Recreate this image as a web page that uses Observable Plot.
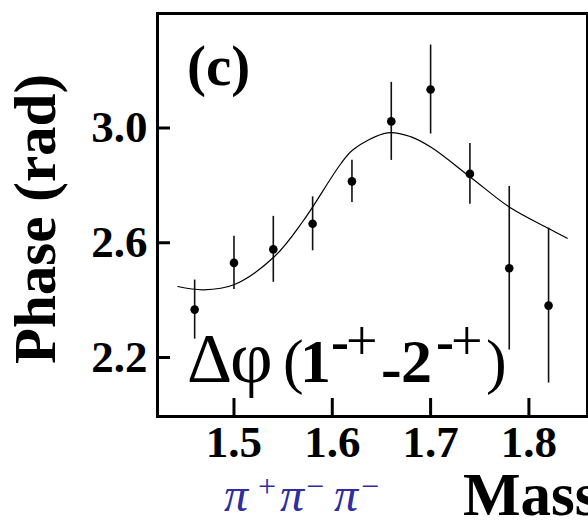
<!DOCTYPE html>
<html><head><meta charset="utf-8">
<script src="https://cdn.jsdelivr.net/npm/d3@7"></script>
<script src="https://cdn.jsdelivr.net/npm/@observablehq/plot@0.6"></script>
<style>body{margin:0;background:#fff}</style>
</head><body><div id="chart"></div>
<script>
// Data points: mass (GeV), phase (rad), symmetric error
const mass  = [1.46, 1.50, 1.54, 1.58, 1.62, 1.66, 1.70, 1.74, 1.78, 1.82];
const phase = [2.367, 2.530, 2.577, 2.666, 2.814, 3.023, 3.134, 2.840, 2.511, 2.381];
const err   = [0.103, 0.093, 0.115, 0.094, 0.074, 0.136, 0.155, 0.106, 0.285, 0.270];
// Fit curve
const fitMass  = [1.4428, 1.4690, 1.5005, 1.5412, 1.5707, 1.6085, 1.6217, 1.6562, 1.6796, 1.7009, 1.7406, 1.7812, 1.8207, 1.8390];
const fitPhase = [2.4475, 2.4360, 2.4545, 2.5521, 2.6776, 2.8745, 2.9260, 2.9833, 2.9700, 2.9320, 2.8285, 2.7219, 2.6487, 2.6159];
const xTicks = [1.5, 1.6, 1.7, 1.8];
const yTicks = [2.2, 2.6, 3.0];
const xDomain = [1.4222, 1.8596];
const yDomain = [1.9944, 3.3991];

const points = mass.map((m, i) => ({m, p: phase[i], e: err[i]}));
const fit = fitMass.map((m, i) => ({m, p: fitPhase[i]}));

const W = 588, H = 520, mL = 157, mR = 1, mT = 13, mB = 104;
const pw = W - mL - mR, ph = H - mT - mB;
const serif = "'Liberation Serif', 'Times New Roman', serif";

const plot = Plot.plot({
  width: W, height: H,
  marginLeft: mL, marginRight: mR, marginTop: mT, marginBottom: mB,
  style: {fontFamily: serif, background: "white", color: "black"},
  x: {domain: xDomain},
  y: {domain: yDomain},
  marks: [
    Plot.tickX(xTicks, {x: d => d, insetTop: ph - 18, strokeWidth: 3, stroke: "black"}),
    Plot.tickY(yTicks, {y: d => d, insetRight: pw - 13, strokeWidth: 3, stroke: "black"}),
    Plot.axisX({ticks: xTicks, tickSize: 0, tickPadding: 9, tickFormat: ".1f", fontSize: 45, fontWeight: "bold", label: null}),
    Plot.axisY({ticks: yTicks, tickSize: 0, tickPadding: 10, tickFormat: ".1f", fontSize: 45, fontWeight: "bold", label: null}),
    Plot.ruleX(points, {x: "m", y1: d => d.p - d.e, y2: d => d.p + d.e, strokeWidth: 1.6, stroke: "#111"}),
    Plot.line(fit, {x: "m", y: "p", curve: "catmull-rom", strokeWidth: 1.2, stroke: "black"}),
    Plot.dot(points, {x: "m", y: "p", r: 4.3, fill: "black"}),
    Plot.frame({strokeWidth: 3, stroke: "black"})
  ]
});

const svg = d3.select(plot);
svg.append("text")
  .attr("transform", "translate(55,219) rotate(-90)")
  .attr("text-anchor", "middle")
  .attr("font-family", serif).attr("font-weight", "bold").attr("font-size", 59)
  .text("Phase (rad)");

svg.append("text")
  .attr("x", 187).attr("y", 85).attr("text-anchor", "start")
  .attr("font-family", serif).attr("font-weight", "bold").attr("font-size", 57)
  .text("(c)");

// Δφ(1-+ - 2-+)
const lab = svg.append("text").attr("text-anchor", "start").attr("font-family", serif).attr("font-size", 62);
const parts = [
  {t: "Δ", x: 187, y: 382, s: 70},
  {t: "φ", x: 230, y: 382, s: 74},
  {t: "(", x: 283, y: 382},
  {t: "1", x: 300, y: 382, b: true},
  {t: "-", x: 331, y: 360, b: true, s: 54},
  {t: "+", x: 346, y: 360, s: 56},
  {t: "-", x: 381, y: 389, b: true},
  {t: "2", x: 401, y: 382, b: true},
  {t: "-", x: 436, y: 360, b: true, s: 54},
  {t: "+", x: 451, y: 360, s: 56},
  {t: ")", x: 486, y: 382}
];
parts.forEach(p => {
  const ts = lab.append("tspan").attr("x", p.x).attr("y", p.y).text(p.t);
  if (p.b) ts.attr("font-weight", "bold");
  if (p.s) ts.attr("font-size", p.s);
});

// π+π−π−
const pi = svg.append("text").attr("text-anchor", "start").attr("font-family", serif).attr("fill", "#2e2ea2").attr("font-size", 48);
[
  {t: "π", x: 224, y: 511, i: true},
  {t: "+", x: 258, y: 497, s: 32},
  {t: "π", x: 280, y: 511, i: true},
  {t: "−", x: 306, y: 497, s: 32},
  {t: "π", x: 334, y: 511, i: true},
  {t: "−", x: 361, y: 497, s: 32}
].forEach(p => {
  const ts = pi.append("tspan").attr("x", p.x).attr("y", p.y).text(p.t);
  if (p.i) ts.attr("font-style", "italic");
  if (p.s) ts.attr("font-size", p.s);
});

svg.append("text")
  .attr("x", 463).attr("y", 515).attr("text-anchor", "start")
  .attr("font-family", serif).attr("font-weight", "bold").attr("font-size", 61)
  .text("Mass");

document.getElementById("chart").appendChild(plot);
</script>
</body></html>
